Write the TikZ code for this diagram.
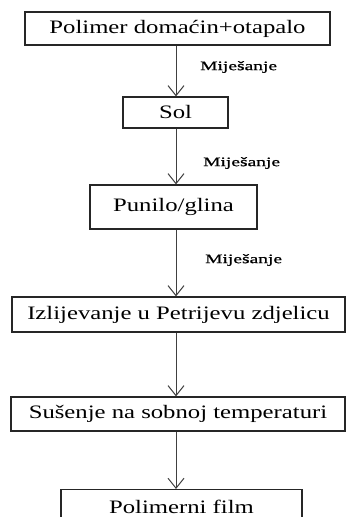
\documentclass[tikz,border=0pt]{standalone}
\usepackage{fontspec}
\setmainfont{Liberation Serif}[FakeStretch=1.3]
\newfontfamily\opisfont{Liberation Serif}[FakeStretch=1.5, FakeBold=1]
\usetikzlibrary{arrows.meta, positioning}

\tikzset{
  korak/.style={draw=black!85, line width=1.2pt, fill=white, inner sep=0pt,
    font=\fontsize{19}{23}\selectfont},
  strelica/.style={draw=black!75, line width=1pt, -{Straight Barb[length=10pt, width=16pt]}},
  opis/.style={anchor=west, inner sep=0pt, font=\opisfont\fontsize{13}{16}\selectfont}
}

\begin{document}
\begin{tikzpicture}[x=1pt, y=1pt]
\useasboundingbox (0,0) rectangle (346,517);
\clip (0,0) rectangle (346,517);
\coordinate (os) at (176,0);
% koraci postupka
\node[korak, minimum width=305pt, minimum height=33pt] (polimer) at (177.5,488.5) {Polimer domaćin+otapalo};
\node[korak, minimum width=105pt, minimum height=31pt] (sol) at (175.5,404.5) {Sol};
\node[korak, minimum width=167pt, minimum height=44pt] (punilo) at (173.5,310) {Punilo/glina};
\node[korak, minimum width=333pt, minimum height=35pt] (izlijevanje) at (178.5,202.5) {Izlijevanje u Petrijevu zdjelicu};
\node[korak, minimum width=334pt, minimum height=34pt] (susenje) at (178,103) {Sušenje na sobnoj temperaturi};
\node[korak, minimum width=241pt, minimum height=36pt, text depth=0pt, anchor=north] (film) at (181.5,28) {\raisebox{-6pt}[0pt][0pt]{Polimerni film}};
% strelice
\draw[strelica] (polimer.south -| os) -- (sol.north -| os);
\draw[strelica] (sol.south -| os) -- (punilo.north -| os);
\draw[strelica] (punilo.south -| os) -- (izlijevanje.north -| os);
\draw[strelica] (izlijevanje.south -| os) -- (susenje.north -| os);
\draw[strelica] (susenje.south -| os) -- (film.north -| os);
% oznake
\node[opis] (m1) at (200,450) {Miješanje};
\node[opis] (m2) at (203,354) {Miješanje};
\node[opis] (m3) at (205,257) {Miješanje};
\end{tikzpicture}
\end{document}
